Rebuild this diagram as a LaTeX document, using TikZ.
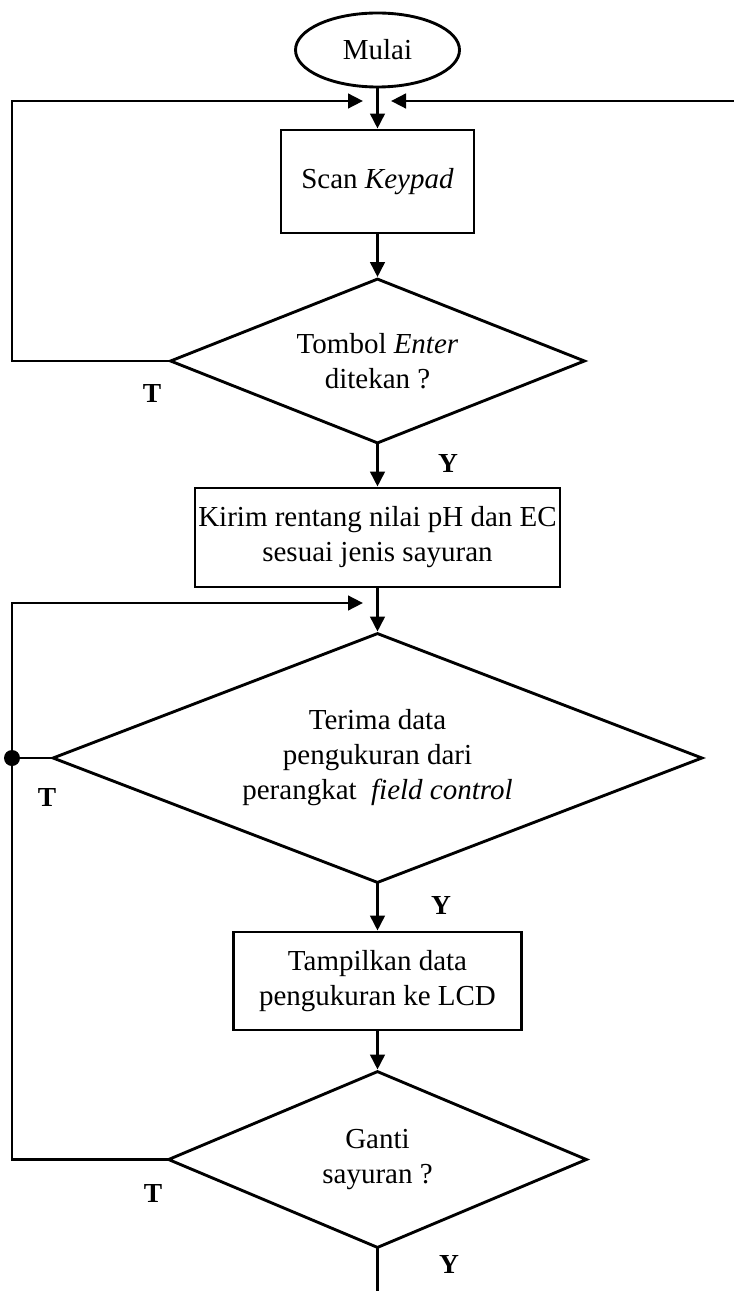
\documentclass[tikz,border=0pt]{standalone}
\usepackage{fontspec}
\setmainfont{Liberation Serif}
\usetikzlibrary{shapes.geometric,arrows.meta}

\begin{document}
\begin{tikzpicture}[x=0.4pt,y=-0.4pt,
  every node/.style={font=\fontsize{11.6pt}{14pt}\selectfont},
  line/.style={line width=1.15pt,line cap=rect},
  arr/.style={line, -{Triangle[length=6pt,width=5.8pt]}},
  procbox/.style={draw,line width=1.15pt,rectangle,inner sep=0pt,align=center},
  terminal/.style={draw,line width=1.15pt,ellipse,inner sep=0pt,minimum width=65.6pt,minimum height=29.6pt},
  decision/.style={draw,line width=1.15pt,diamond,inner sep=0pt,align=center},
  branch/.style={font=\fontsize{11pt}{13pt}\selectfont\bfseries}]

\useasboundingbox (0,0) rectangle (733,1291);

% flow nodes, all on one vertical axis
\node[terminal] (mulai) at (377.5,50) {Mulai};
\node[procbox,minimum width=77.2pt,minimum height=41.2pt] (scan) at (377.5,181.5) {Scan \textit{Keypad}};
\node[decision,shape aspect=2.515,minimum width=166pt,minimum height=66pt] (enter) at (377.5,361) {Tombol \textit{Enter}\\ditekan ?};
\node[procbox,minimum width=146pt,minimum height=39.6pt] (kirim) at (377.5,537.5) {Kirim rentang nilai pH dan EC\\sesuai jenis sayuran};
\node[decision,shape aspect=2.6,minimum width=260pt,minimum height=100pt] (terima) at (377.5,758) {Terima data\\pengukuran dari\\perangkat \ \textit{field control}};
\node[procbox,minimum width=115.2pt,minimum height=39.2pt] (tampil) at (377.5,981) {Tampilkan data\\pengukuran ke LCD};
\node[decision,shape aspect=2.37,minimum width=167.6pt,minimum height=70.8pt] (ganti) at (377.5,1159.5) {Ganti\\sayuran ?};

% branch labels
\node[branch] (t1) at (152,393) {T};
\node[branch] (y1) at (448,463) {Y};
\node[branch] (t2) at (47,797) {T};
\node[branch] (y2) at (441,905) {Y};
\node[branch] (t3) at (153,1193) {T};
\node[branch] (y3) at (449,1264) {Y};

% loop helper points
\coordinate (tipL1) at (363,101);
\coordinate (tipR1) at (391,101);
\coordinate (edgeR) at (733,101);
\coordinate (cornerL1) at (12,361);
\coordinate (tipL2) at (363,603);
\coordinate (cornerL3) at (12,1159.5);
\coordinate (edgeB) at (377.5,1291);
\coordinate (joinDot) at (12,758);

% main flow
\draw[arr] (mulai) -- (scan);
\draw[arr] (scan) -- (enter);
\draw[arr] (enter) -- (kirim);
\draw[arr] (kirim) -- (terima);
\draw[arr] (terima) -- (tampil);
\draw[arr] (tampil) -- (ganti);
\draw[line] (ganti.south) -- (edgeB);

% loops back
\draw[arr] (enter.west) -- (cornerL1) |- (tipL1);
\draw[arr] (edgeR) -- (tipR1);
\draw[arr] (ganti.west) -- (cornerL3) |- (tipL2);
\draw[line] (terima.west) -- (joinDot);
\fill (joinDot) circle (3.2pt);

\end{tikzpicture}
\end{document}
